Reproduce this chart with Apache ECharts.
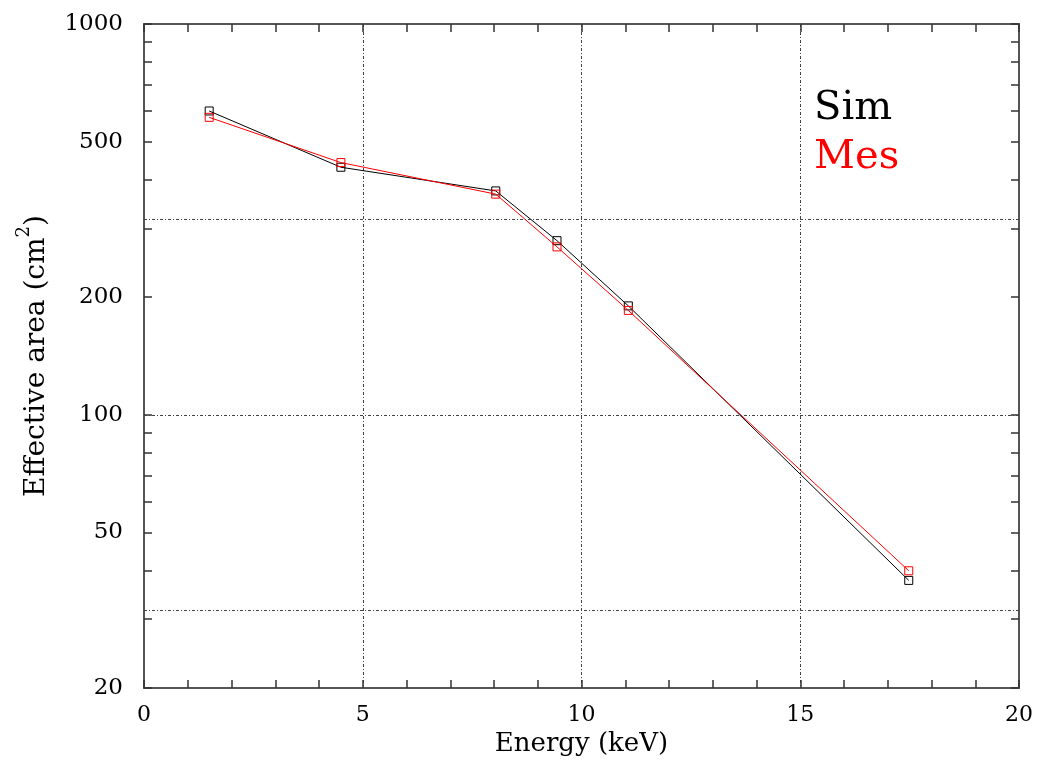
<!DOCTYPE html>
<html>
<head>
<meta charset="utf-8">
<script src="https://cdn.jsdelivr.net/npm/echarts@6/dist/echarts.min.js"></script>
<style>
  html, body { margin: 0; padding: 0; background: #fff; }
  #chart { width: 1039px; height: 765px; }
</style>
</head>
<body>
<div id="chart"></div>
<script>
const energy = [1.49, 4.5, 8.04, 9.44, 11.07, 17.48];
const sim = [599, 430, 374, 279, 190, 37.7];
const mes = [577, 442, 367, 269, 185, 39.9];

const yLabelValues = [20, 50, 100, 200, 500, 1000];
const yTickValues = [20, 30, 40, 50, 60, 70, 80, 90, 100, 200, 300, 400, 500, 600, 700, 800, 900, 1000];
const yGridValues = [31.62, 100, 316.2];

const font = 'DejaVu Serif';
const frameColor = '#555';
const gridStyle = { color: '#444', width: 1, type: [3, 2, 1, 2] };

const chart = echarts.init(document.getElementById('chart'));

const xCommon = {
  type: 'value',
  min: 0,
  max: 20,
  interval: 5,
  axisLine: { show: true, onZero: false, lineStyle: { color: frameColor, width: 2 } },
  axisTick: { show: true, inside: true, length: 8, lineStyle: { color: '#333', width: 1.5 } },
  minorTick: { show: true, splitNumber: 5, length: 8, lineStyle: { color: '#333', width: 1.5 } },
  minorSplitLine: { show: false },
};

const yCommon = {
  type: 'log',
  logBase: 10,
  min: 20,
  max: 1000,
  axisLine: { show: true, onZero: false, lineStyle: { color: frameColor, width: 2 } },
  axisTick: { show: true, inside: true, length: 8, customValues: yTickValues, lineStyle: { color: '#333', width: 1.5 } },
  splitLine: { show: false },
  minorTick: { show: false },
};

const option = {
  backgroundColor: '#fff',
  animation: false,
  grid: { left: 144, right: 20, top: 24, bottom: 77, containLabel: false, outerBoundsMode: 'none' },
  legend: {
    orient: 'vertical',
    left: 804,
    top: 84,
    icon: 'none',
    itemWidth: 0,
    itemHeight: 40,
    itemGap: 9,
    selectedMode: false,
    textStyle: { fontFamily: font, fontSize: 40 },
    data: [
      { name: 'Sim', textStyle: { color: '#000' } },
      { name: 'Mes', textStyle: { color: '#ff0000' } },
    ],
  },
  xAxis: [
    Object.assign({}, xCommon, {
      position: 'bottom',
      name: 'Energy (keV)',
      nameLocation: 'middle',
      nameGap: 42,
      nameTextStyle: { fontFamily: font, fontSize: 26, color: '#000' },
      axisLabel: { margin: 16, fontFamily: font, fontSize: 22, color: '#000' },
      splitLine: { show: true, lineStyle: gridStyle },
    }),
    Object.assign({}, xCommon, {
      position: 'top',
      axisLabel: { show: false },
      splitLine: { show: false },
    }),
  ],
  yAxis: [
    Object.assign({}, yCommon, {
      position: 'left',
      name: '{b|Effective area (cm}{s|2}{b|)}',
      nameLocation: 'middle',
      nameGap: 93,
      nameTextStyle: {
        fontFamily: font,
        color: '#000',
        rich: {
          b: { fontFamily: font, fontSize: 28, color: '#000', lineHeight: 36, verticalAlign: 'bottom' },
          s: { fontFamily: font, fontSize: 18, color: '#000', lineHeight: 36, verticalAlign: 'top' },
        },
      },
      axisLabel: {
        margin: 21,
        fontFamily: font,
        fontSize: 23,
        color: '#000',
        customValues: yLabelValues,
        formatter: v => String(v),
      },
    }),
    Object.assign({}, yCommon, {
      position: 'right',
      axisLabel: { show: false },
    }),
  ],
  series: [
    {
      name: 'Sim',
      type: 'line',
      xAxisIndex: 0,
      yAxisIndex: 0,
      data: energy.map((e, i) => [e, sim[i]]),
      symbol: 'rect',
      symbolSize: 8,
      lineStyle: { color: '#000', width: 1 },
      itemStyle: { color: 'rgba(0,0,0,0)', borderColor: '#000', borderWidth: 1 },
      markLine: {
        silent: true,
        symbol: 'none',
        label: { show: false },
        lineStyle: gridStyle,
        data: yGridValues.map(v => ({ yAxis: v })),
      },
      z: 3,
    },
    {
      name: 'Mes',
      type: 'line',
      xAxisIndex: 0,
      yAxisIndex: 0,
      data: energy.map((e, i) => [e, mes[i]]),
      symbol: 'rect',
      symbolSize: 8,
      lineStyle: { color: '#ff0000', width: 1 },
      itemStyle: { color: 'rgba(0,0,0,0)', borderColor: '#ff0000', borderWidth: 1 },
      z: 4,
    },
  ],
};

chart.setOption(option);
</script>
</body>
</html>
